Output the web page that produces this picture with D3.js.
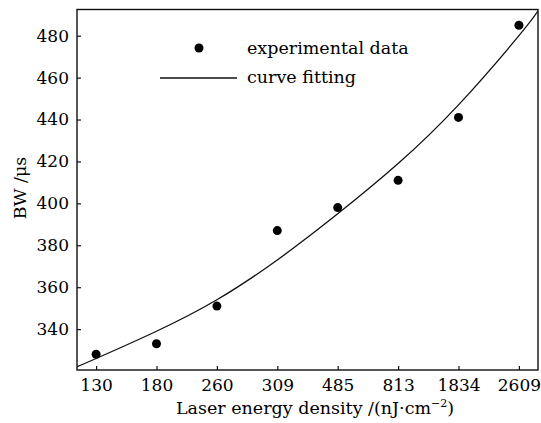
<!DOCTYPE html>
<html>
<head>
<meta charset="utf-8">
<script src="https://cdn.jsdelivr.net/npm/d3@7"></script>
<style>
  body { margin: 0; background: #fff; }
  svg { display: block; }
  text { font-family: "DejaVu Serif", serif; fill: #000; }
</style>
</head>
<body>
<div id="chart"></div>
<script>
// x categories (laser energy density, nJ/cm^2)
const energyLabels = ['130', '180', '260', '309', '485', '813', '1834', '2609']
// measured BW (us)
const bwMeasured = [328, 333, 351, 387, 398, 411, 441, 485]
// fitted curve, x given in category index
const fitIndex = [-0.32, 0, 1, 2, 3, 4, 5, 6, 7, 7.32]
const fitValues = [322, 326, 339, 354, 373, 395, 419, 447, 480, 492]
const yTicks = [340, 360, 380, 400, 420, 440, 460, 480]

const W = 541
const H = 423
const margin = { top: 9.5, right: 3, bottom: 53, left: 77 }
const width = W - margin.left - margin.right
const height = H - margin.top - margin.bottom

const svg = d3.select('#chart')
  .append('svg')
  .attr('width', W)
  .attr('height', H)

const g = svg.append('g')
  .attr('transform', 'translate(' + margin.left + ',' + margin.top + ')')

const x = d3.scaleLinear()
  .domain([-0.316, 7.316])
  .range([0, width])

const y = d3.scaleLinear()
  .domain([320.5, 492.5])
  .range([height, 0])

// frame
g.append('rect')
  .attr('width', width)
  .attr('height', height)
  .attr('fill', 'none')
  .attr('stroke', '#111')
  .attr('stroke-width', 1.4)

// axes with inward ticks
g.append('g')
  .attr('transform', 'translate(0,' + height + ')')
  .call(d3.axisBottom(x)
    .tickValues(d3.range(energyLabels.length))
    .tickFormat(i => energyLabels[i])
    .tickSizeInner(-4)
    .tickSizeOuter(0)
    .tickPadding(9))

g.append('g')
  .call(d3.axisLeft(y)
    .tickValues(yTicks)
    .tickSizeInner(-4)
    .tickSizeOuter(0)
    .tickPadding(8))

g.selectAll('.domain').remove()
g.selectAll('.tick line').attr('stroke', '#111').attr('stroke-width', 1.2)
g.selectAll('.tick text')
  .style('font-family', '"DejaVu Serif", serif')
  .style('font-size', '17px')
  .attr('fill', '#000')

// fitted curve
const line = d3.line()
  .x(d => x(d[0]))
  .y(d => y(d[1]))
  .curve(d3.curveNatural)

const clip = g.append('clipPath').attr('id', 'clip')
clip.append('rect').attr('width', width).attr('height', height)

g.append('path')
  .datum(d3.zip(fitIndex, fitValues))
  .attr('clip-path', 'url(#clip)')
  .attr('d', line)
  .attr('fill', 'none')
  .attr('stroke', '#111')
  .attr('stroke-width', 1.3)

// measured points
g.selectAll('.dot')
  .data(bwMeasured)
  .enter()
  .append('circle')
  .attr('class', 'dot')
  .attr('cx', (d, i) => x(i))
  .attr('cy', d => y(d))
  .attr('r', 4.5)
  .attr('fill', '#000')

// legend
const legend = svg.append('g')
legend.append('circle')
  .attr('cx', 199)
  .attr('cy', 48)
  .attr('r', 4.5)
  .attr('fill', '#000')
legend.append('text')
  .attr('x', 247)
  .attr('y', 54)
  .style('font-size', '17.5px')
  .text('experimental data')
legend.append('line')
  .attr('x1', 160)
  .attr('x2', 237)
  .attr('y1', 78)
  .attr('y2', 78)
  .attr('stroke', '#111')
  .attr('stroke-width', 1.3)
legend.append('text')
  .attr('x', 247)
  .attr('y', 83)
  .style('font-size', '17.5px')
  .text('curve fitting')

// axis titles
const xTitle = svg.append('text')
  .attr('x', 315)
  .attr('y', 414)
  .attr('text-anchor', 'middle')
  .style('font-size', '17.5px')
xTitle.append('tspan').text('Laser energy density /(nJ\u00b7cm')
xTitle.append('tspan').attr('dy', -7).style('font-size', '11px').text('\u22122')
xTitle.append('tspan').attr('dy', 7).text(')')

svg.append('text')
  .attr('transform', 'translate(26,' + 188 + ') rotate(-90)')
  .attr('text-anchor', 'middle')
  .style('font-size', '17.5px')
  .text('BW /\u03bcs')
</script>
</body>
</html>
